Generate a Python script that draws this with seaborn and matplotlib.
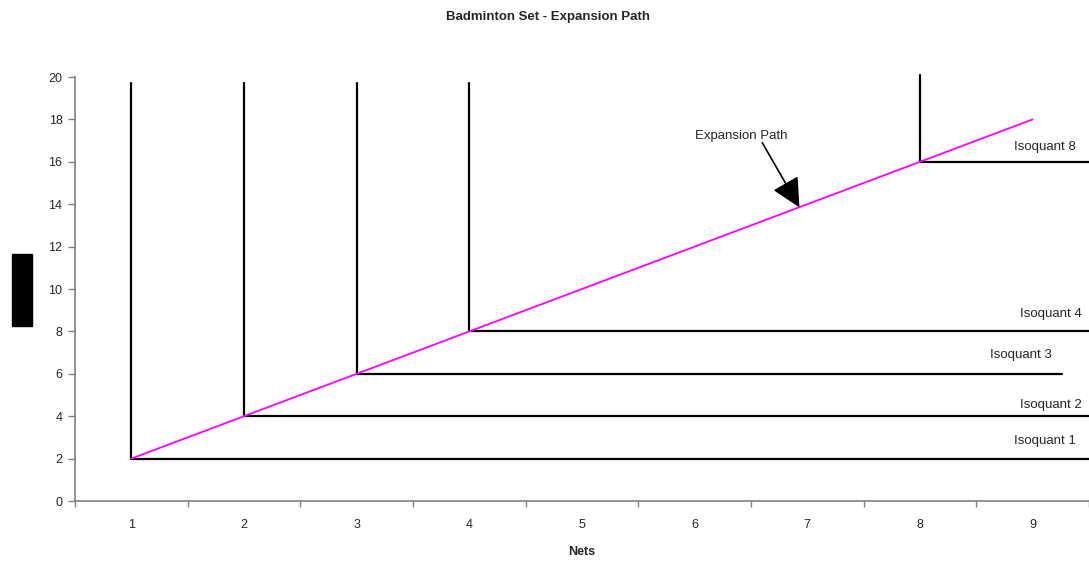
import matplotlib
matplotlib.use('Agg')
import matplotlib.pyplot as plt
import pandas as pd
import seaborn as sns

# ---- data ----
path_nets = [1, 2, 3, 4, 5, 6, 7, 8, 9]
path_rackets = [2, 4, 6, 8, 10, 12, 14, 16, 18]

iso_names = ['Isoquant 1', 'Isoquant 2', 'Isoquant 3', 'Isoquant 4', 'Isoquant 8']
iso_corner_x = [1, 2, 3, 4, 8]
iso_corner_y = [2, 4, 6, 8, 16]
iso_top_y = [19.7, 19.7, 19.7, 19.7, 20.1]
iso_end_x = [9.6, 9.6, 9.26, 9.6, 9.6]

x_ticklabels = ['1', '2', '3', '4', '5', '6', '7', '8', '9']
y_ticks = [0, 2, 4, 6, 8, 10, 12, 14, 16, 18, 20]

# label placement (layout, not data)
label_pos = [(9.38, 2.55), (9.44, 4.25), (9.17, 6.6), (9.44, 8.55), (9.38, 16.4)]

sns.set_theme(style='white')
plt.rcParams['font.family'] = ['Liberation Sans', 'DejaVu Sans']

fig = plt.figure(figsize=(10.89, 5.61), dpi=100)
ax = fig.add_axes([75 / 1089, 1 - 501 / 561, 1 - 75 / 1089, (501 - 77) / 561])

# isoquants as L-shaped lines
rows = []
for name, cx, cy, ty, ex in zip(iso_names, iso_corner_x, iso_corner_y, iso_top_y, iso_end_x):
    rows += [(name, 0, cx, ty), (name, 1, cx, cy), (name, 2, ex, cy)]
iso_df = pd.DataFrame(rows, columns=['name', 'order', 'nets', 'rackets'])
for name, grp in iso_df.groupby('name'):
    sns.lineplot(data=grp, x='nets', y='rackets', sort=False, estimator=None,
                 color='black', linewidth=1.6, ax=ax, clip_on=False)

path_df = pd.DataFrame({'nets': path_nets, 'rackets': path_rackets})
sns.lineplot(data=path_df, x='nets', y='rackets', color='#FF00FF', linewidth=1.3, ax=ax)

for name, (lx, ly) in zip(iso_names, label_pos):
    ax.text(lx, ly, name, ha='right', va='bottom', fontsize=9.5)

# expansion path label + arrow
ax.text(6.41, 16.95, 'Expansion Path', ha='center', va='bottom', fontsize=9.5)
ax.annotate('', xy=(6.93, 13.85), xytext=(6.6, 16.9),
            arrowprops=dict(arrowstyle='-|>,head_length=1.5,head_width=0.75',
                            color='black', lw=1.2, shrinkA=0, shrinkB=0))

ax.set_xlim(0.5, 1 + (1089 - 131) / 113.5)
ax.set_ylim(0, 20)
ax.set_xticks([k + 0.5 for k in range(0, 10)], minor=False)
ax.set_xticklabels([])
ax.set_xticks(path_nets, minor=True)
ax.set_xticklabels(x_ticklabels, minor=True)
ax.set_yticks(y_ticks)
ax.tick_params(axis='x', which='major', direction='out', length=4, width=1, color='#808080', bottom=True)
ax.tick_params(axis='x', which='minor', length=0, labelsize=9, pad=13, bottom=True)
ax.tick_params(axis='y', direction='out', length=5, width=1, color='#808080', labelsize=9, left=True, pad=4)

for s in ['top', 'right']:
    ax.spines[s].set_visible(False)
for s in ['left', 'bottom']:
    ax.spines[s].set_color('#808080')
    ax.spines[s].set_linewidth(1.2)

ax.set_xlabel('Nets', fontsize=9, fontweight='bold', labelpad=11)
ax.set_ylabel('')

fig.text(22 / 1089, 1 - 290 / 561, 'Racquets', rotation=90, ha='center', va='center',
         fontsize=10.5, fontweight='bold', color='black',
         bbox=dict(facecolor='black', edgecolor='black', pad=2))

fig.text(548 / 1089, 1 - 17 / 561, 'Badminton Set - Expansion Path', ha='center', va='center',
         fontsize=9.5, fontweight='bold')

fig.savefig('out.png', dpi=100)
